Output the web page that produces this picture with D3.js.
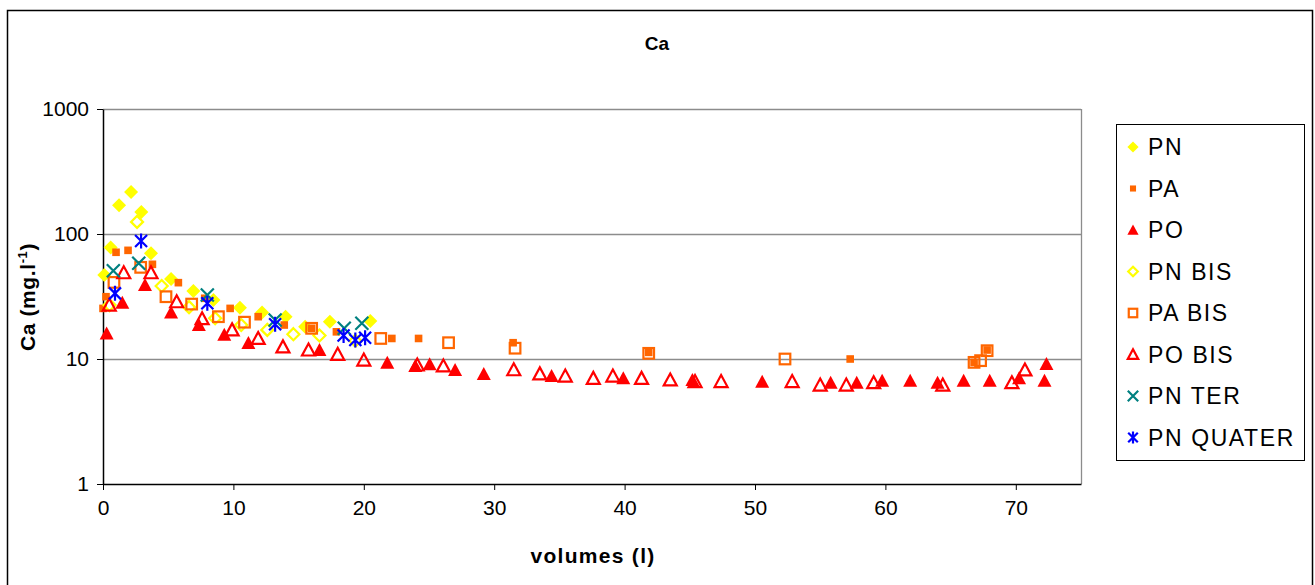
<!DOCTYPE html>
<html>
<head>
<meta charset="utf-8">
<script src="https://cdn.jsdelivr.net/npm/d3@7"></script>
<style>
  html, body { margin: 0; padding: 0; background: #fff; }
  svg { display: block; font-family: "Liberation Sans", Arial, sans-serif; }
</style>
</head>
<body>
<svg id="chart" width="1315" height="585"></svg>
<script>
// ---- Data (volumes in l, Ca in mg/l) ----
const seriesNames = ["PN", "PA", "PO", "PN BIS", "PA BIS", "PO BIS", "PN TER", "PN QUATER"];

const pnX = [0.1, 0.59, 1.23, 2.15, 2.94, 3.68, 5.22, 6.93, 8.47, 10.5, 12.2, 14.0, 15.5, 17.4, 20.5];
const pnY = [47, 78, 170, 217, 150, 70, 43.6, 35, 29.6, 25.7, 23.5, 21.8, 18.1, 19.9, 20.1];

const paX = [0, 0.23, 1.0, 1.92, 3.79, 5.78, 7.8, 9.75, 11.9, 13.9, 16.0, 17.9, 22.15, 24.2, 31.45, 41.85, 57.3, 66.8, 67.8];
const paY = [25.4, 31.5, 71.4, 74, 57.2, 40.8, 30.6, 25.4, 21.8, 18.7, 17.6, 16.5, 14.6, 14.6, 13.5, 11.3, 10.0, 9.4, 11.8];

const poX = [0.28, 1.48, 3.22, 5.22, 7.35, 9.3, 11.15, 16.6, 21.8, 23.95, 25.05, 27.0, 29.2, 34.4, 39.9, 45.2, 50.55, 55.8, 57.8, 59.75, 61.9, 64.0, 66.0, 68.0, 70.25, 72.2, 72.35];
const poY = [16, 28.2, 39, 23.5, 18.7, 15.6, 13.4, 11.8, 9.34, 8.8, 9.07, 8.17, 7.59, 7.31, 7.0, 6.79, 6.58, 6.46, 6.46, 6.7, 6.7, 6.46, 6.7, 6.7, 7.0, 6.7, 9.12];

const pnBisX = [0.5, 2.61, 4.5, 6.6, 8.6, 10.6, 12.6, 14.6, 16.6, 19.35];
const pnBisY = [27, 125, 38.4, 26, 21.2, 18.7, 17.1, 15.8, 15.4, 14];

const paBisX = [0.84, 2.89, 4.83, 6.8, 8.85, 10.85, 16.0, 21.3, 26.5, 31.6, 41.85, 52.3, 66.8, 67.3, 67.8];
const paBisY = [41, 54.1, 31.5, 27.5, 21.8, 19.7, 17.6, 14.6, 13.5, 12.2, 11.1, 10.0, 9.4, 9.7, 11.65];

const poBisX = [0.48, 1.59, 3.68, 5.65, 7.6, 9.9, 11.9, 13.8, 15.76, 18.0, 20.0, 24.1, 26.1, 31.5, 33.5, 35.45, 37.6, 39.1, 41.3, 43.5, 45.4, 47.4, 52.85, 55.0, 57.0, 59.1, 64.4, 69.7, 70.7];
const poBisY = [27, 49, 49, 28.7, 21, 17.1, 14.6, 12.5, 11.8, 10.9, 9.8, 8.95, 8.8, 8.2, 7.6, 7.3, 7.0, 7.3, 7.0, 6.8, 6.6, 6.6, 6.6, 6.19, 6.19, 6.46, 6.19, 6.46, 8.17];

const pnTerX = [0.79, 2.74, 8.0, 13.2, 18.5, 19.85];
const pnTerY = [50.9, 58.3, 32.5, 20.5, 17.6, 19.3];

const pnQuaterX = [0.92, 2.92, 8.0, 13.2, 18.45, 19.35, 20.1];
const pnQuaterY = [33.5, 88, 27.9, 19, 15.4, 14.2, 14.8];

const xTickValues = [0, 10, 20, 30, 40, 50, 60, 70];
const yTickValues = [1, 10, 100, 1000];

const titleText = "Ca";
const xLabelText = "volumes (l)";

// ---- Build series table ----
const seriesX = [pnX, paX, poX, pnBisX, paBisX, poBisX, pnTerX, pnQuaterX];
const seriesY = [pnY, paY, poY, pnBisY, paBisY, poBisY, pnTerY, pnQuaterY];
const markerType = ["diamondF", "squareS", "triangleF", "diamondO", "squareO", "triangleO", "cross", "asterisk"];
const markerColor = ["#FFFF00", "#FF6600", "#FF0000", "#FFFF00", "#FF6600", "#FF0000", "#008080", "#0000FF"];
const series = seriesNames.map((n, i) => ({
  name: n, type: markerType[i], color: markerColor[i],
  points: seriesX[i].map((x, j) => ({ x, y: seriesY[i][j] }))
}));

// ---- Layout ----
const svg = d3.select("#chart");
const plot = { left: 103, right: 1081, top: 109, bottom: 484 };

const x = d3.scaleLinear().domain([0, 75]).range([plot.left, plot.right]);
const y = d3.scaleLog().domain([1, 1000]).range([plot.bottom, plot.top]);

// outer frame
svg.append("rect").attr("x", 7.5).attr("y", 10.5).attr("width", 1305).attr("height", 590)
  .attr("fill", "#fff").attr("stroke", "#000").attr("stroke-width", 1.5);

// gridlines
svg.append("g").selectAll("line").data(yTickValues.filter(v => v > 1)).join("line")
  .attr("x1", plot.left).attr("x2", plot.right)
  .attr("y1", d => Math.round(y(d)) + 0.5).attr("y2", d => Math.round(y(d)) + 0.5)
  .attr("stroke", "#8c8c8c").attr("stroke-width", 1.3);
// right border (gray)
svg.append("line").attr("x1", plot.right + 0.5).attr("x2", plot.right + 0.5)
  .attr("y1", plot.top).attr("y2", plot.bottom).attr("stroke", "#8c8c8c").attr("stroke-width", 1.3);

// axes
const xAxis = d3.axisBottom(x).tickValues(xTickValues).tickSize(6).tickSizeOuter(0).tickPadding(6);
const gx = svg.append("g").attr("transform", `translate(0,${plot.bottom})`).call(xAxis);
gx.select(".domain").attr("stroke", "#000").attr("stroke-width", 1.5);
gx.selectAll(".tick line").attr("stroke", "#000");
gx.selectAll(".tick text").attr("font-size", 21).attr("fill", "#000")
  .attr("font-family", "'Liberation Sans', Arial, sans-serif").attr("dy", "0.92em");

const yAxis = d3.axisLeft(y).tickValues(yTickValues).tickFormat(d3.format("d")).tickSize(6).tickSizeOuter(0).tickPadding(8);
const gy = svg.append("g").attr("transform", `translate(${plot.left},0)`).call(yAxis);
gy.select(".domain").attr("stroke", "#000").attr("stroke-width", 1.5);
gy.selectAll(".tick line").attr("stroke", "#000");
gy.selectAll(".tick text").attr("font-size", 21).attr("fill", "#000")
  .attr("font-family", "'Liberation Sans', Arial, sans-serif");

// ---- Markers ----
function drawMarker(g, type, color, s) {
  const h = 7 * s;
  switch (type) {
    case "diamondF":
      g.append("path").attr("d", `M0,${-h}L${h},0L0,${h}L${-h},0Z`).attr("fill", color);
      break;
    case "squareS":
      g.append("rect").attr("x", -3.8 * s).attr("y", -3.8 * s).attr("width", 7.6 * s).attr("height", 7.6 * s).attr("fill", color);
      break;
    case "triangleF":
      g.append("path").attr("d", `M0,${-7 * s}L${7 * s},${6 * s}L${-7 * s},${6 * s}Z`).attr("fill", color);
      break;
    case "diamondO":
      g.append("path").attr("d", `M0,${-6 * s}L${6 * s},0L0,${6 * s}L${-6 * s},0Z`)
        .attr("fill", "none").attr("stroke", color).attr("stroke-width", 2.2);
      break;
    case "squareO":
      g.append("rect").attr("x", -5.3 * s).attr("y", -5.3 * s).attr("width", 10.6 * s).attr("height", 10.6 * s)
        .attr("fill", "none").attr("stroke", color).attr("stroke-width", 2.2);
      break;
    case "triangleO":
      g.append("path").attr("d", `M0,${-6.5 * s}L${6.5 * s},${5.5 * s}L${-6.5 * s},${5.5 * s}Z`)
        .attr("fill", "none").attr("stroke", color).attr("stroke-width", 2.2);
      break;
    case "cross":
      g.append("path").attr("d", `M${-6.5 * s},${-6.5 * s}L${6.5 * s},${6.5 * s}M${6.5 * s},${-6.5 * s}L${-6.5 * s},${6.5 * s}`)
        .attr("stroke", color).attr("stroke-width", 2.2);
      break;
    case "asterisk":
      g.append("path").attr("d", `M${-6 * s},${-6 * s}L${6 * s},${6 * s}M${6 * s},${-6 * s}L${-6 * s},${6 * s}M0,${-7.5 * s}L0,${7.5 * s}`)
        .attr("stroke", color).attr("stroke-width", 2.2);
      break;
  }
}

const pointsLayer = svg.append("g");
series.forEach(sr => {
  const g = pointsLayer.append("g").attr("class", "series");
  g.selectAll("g.pt").data(sr.points).join("g").attr("class", "pt")
    .attr("transform", d => `translate(${x(d.x)},${y(d.y)})`)
    .each(function () { drawMarker(d3.select(this), sr.type, sr.color, 1); });
});

// ---- Titles ----
svg.append("text").attr("x", 657).attr("y", 50).attr("text-anchor", "middle")
  .attr("font-size", 19).attr("font-weight", "bold").text(titleText);

svg.append("text").attr("x", 593).attr("y", 563).attr("text-anchor", "middle")
  .attr("font-size", 21).attr("font-weight", "bold").attr("letter-spacing", 1.3).text(xLabelText);

const yl = svg.append("text").attr("transform", "translate(35,297) rotate(-90)")
  .attr("text-anchor", "middle").attr("font-size", 21).attr("font-weight", "bold").attr("letter-spacing", 0.6);
yl.append("tspan").text("Ca (mg.l");
yl.append("tspan").attr("font-size", 13).attr("dy", -8).text("-1");
yl.append("tspan").attr("dy", 8).text(")");

// ---- Legend ----
const lg = svg.append("g");
lg.append("rect").attr("x", 1116.5).attr("y", 124.5).attr("width", 188).attr("height", 336)
  .attr("fill", "#fff").attr("stroke", "#000").attr("stroke-width", 1);
series.forEach((sr, i) => {
  const cy = 147 + i * 41.5;
  const m = lg.append("g").attr("transform", `translate(1133,${cy})`);
  drawMarker(m, sr.type, sr.color, 0.8);
  lg.append("text").attr("x", 1148).attr("y", cy + 8).attr("font-size", 23)
    .attr("letter-spacing", 1.6).text(sr.name);
});
</script>
</body>
</html>
